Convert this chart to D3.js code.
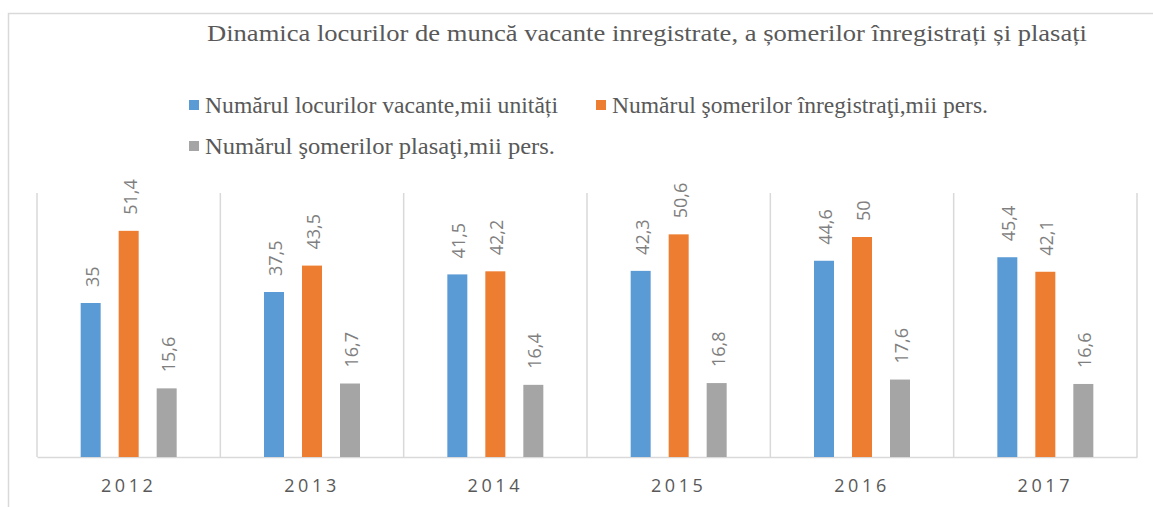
<!DOCTYPE html>
<html>
<head>
<meta charset="utf-8">
<script src="https://cdn.jsdelivr.net/npm/d3@7"></script>
<style>
  html, body { margin: 0; padding: 0; background: #fff; }
  svg { display: block; }
</style>
</head>
<body>
<svg></svg>
<script>
const years = ['2012', '2013', '2014', '2015', '2016', '2017'];
const seriesNames = [
  'Numărul locurilor vacante,mii unități',
  'Numărul şomerilor înregistraţi,mii pers.',
  'Numărul şomerilor plasaţi,mii pers.'
];
const vacante = [35, 37.5, 41.5, 42.3, 44.6, 45.4];
const inregistrati = [51.4, 43.5, 42.2, 50.6, 50, 42.1];
const plasati = [15.6, 16.7, 16.4, 16.8, 17.6, 16.6];
const colors = ['#5b9bd5', '#ed7d31', '#a5a5a5'];
const title = 'Dinamica locurilor de muncă vacante inregistrate, a șomerilor înregistrați și plasați';

const W = 1153, H = 507;
const svg = d3.select('svg').attr('width', W).attr('height', H);

// outer chart frame (right/bottom edges fall outside the picture)
svg.append('rect')
  .attr('x', 8.5).attr('y', 13.5)
  .attr('width', 1300).attr('height', 700)
  .attr('fill', 'none').attr('stroke', '#d9d9d9').attr('stroke-width', 1.5);

const margin = {left: 37, right: 1137, top: 193, bottom: 457};

const allSeries = [vacante, inregistrati, plasati];
const data = years.map((y, i) => ({
  year: y,
  values: allSeries.map((s, k) => ({k: k, v: s[i]}))
}));

const x0 = d3.scaleBand().domain(years).range([margin.left, margin.right]).padding(0);
const bw = x0.bandwidth();
const x1 = d3.scaleBand().domain(d3.range(3))
  .range([bw / 2 - 48, bw / 2 + 48])
  .paddingInner(18 / 38).paddingOuter(0);
const y = d3.scaleLinear().domain([0, 60]).range([margin.bottom, margin.top]);

// vertical separators between categories
const bounds = years.map(d => x0(d)).concat([margin.right]);
svg.append('g').selectAll('line').data(bounds).enter().append('line')
  .attr('x1', d => d).attr('x2', d => d)
  .attr('y1', y(60)).attr('y2', y(0))
  .attr('stroke', '#d9d9d9').attr('stroke-width', 1.5);

// baseline axis
const xAxis = d3.axisBottom(x0).tickSize(0).tickPadding(22);
const gx = svg.append('g')
  .attr('transform', `translate(0,${y(0)})`)
  .call(xAxis);
gx.select('.domain').attr('stroke', '#d9d9d9').attr('stroke-width', 1.5);
gx.selectAll('text')
  .attr('font-family', '"Open Sans", sans-serif')
  .attr('font-size', 18)
  .attr('fill', '#595959')
  .attr('letter-spacing', '3.6px')
  .attr('dy', null)
  .attr('y', 35);

// bars
const groups = svg.append('g').selectAll('g').data(data).enter().append('g')
  .attr('transform', d => `translate(${x0(d.year)},0)`);

groups.selectAll('rect').data(d => d.values).enter().append('rect')
  .attr('x', d => x1(d.k))
  .attr('width', x1.bandwidth())
  .attr('y', d => y(d.v))
  .attr('height', d => y(0) - y(d.v))
  .attr('fill', d => colors[d.k]);

// rotated value labels
groups.selectAll('text.lbl').data(d => d.values).enter().append('text')
  .attr('class', 'lbl')
  .attr('transform', d => `translate(${x1(d.k) + x1.bandwidth() / 2},${y(d.v) - 16}) rotate(-90)`)
  .attr('dy', '0.45em')
  .attr('font-family', '"Open Sans", sans-serif')
  .attr('font-size', 18)
  .attr('fill', '#7f7f7f')
  .text(d => String(d.v).replace('.', ','));

// title
svg.append('text')
  .attr('x', 207).attr('y', 41)
  .attr('font-family', '"Liberation Serif", serif')
  .attr('font-size', 23)
  .attr('fill', '#595959')
  .attr('textLength', 880)
  .attr('lengthAdjust', 'spacingAndGlyphs')
  .text(title);

// legend
const legendPos = [
  {x: 189, y: 113, w: 353},
  {x: 596, y: 113, w: 376},
  {x: 189, y: 154, w: 350}
];
const lg = svg.append('g').selectAll('g').data(seriesNames).enter().append('g')
  .attr('transform', (d, i) => `translate(${legendPos[i].x},${legendPos[i].y})`);
lg.append('rect')
  .attr('x', 0).attr('y', -13).attr('width', 10).attr('height', 10)
  .attr('fill', (d, i) => colors[i]);
lg.append('text')
  .attr('x', 16).attr('y', 0)
  .attr('font-family', '"Liberation Serif", serif')
  .attr('font-size', 23)
  .attr('fill', '#595959')
  .attr('textLength', (d, i) => legendPos[i].w)
  .attr('lengthAdjust', 'spacingAndGlyphs')
  .text(d => d);
</script>
</body>
</html>
